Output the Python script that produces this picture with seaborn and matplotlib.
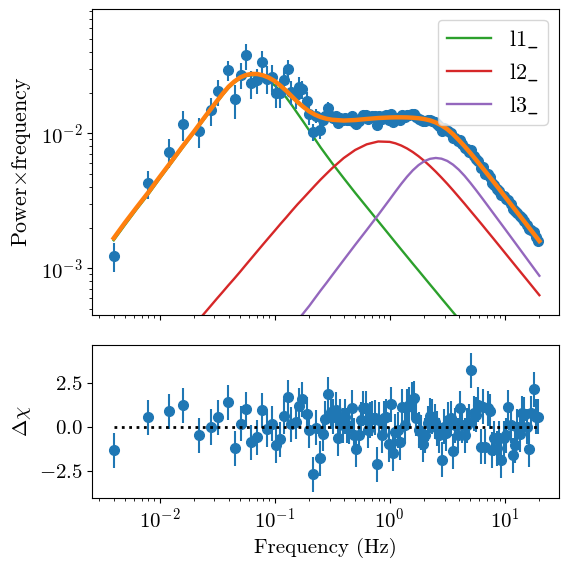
import matplotlib
matplotlib.use('Agg')
import matplotlib.pyplot as plt
import seaborn as sns

# ---------------------------------------------------------------
# Data: binned power spectrum (nu * P)
# ---------------------------------------------------------------
freq = [0.004, 0.008, 0.012, 0.016, 0.022, 0.028, 0.032, 0.039, 0.045, 0.051,
        0.056, 0.062, 0.070, 0.078, 0.086, 0.095, 0.103, 0.111, 0.121, 0.131,
        0.139, 0.153, 0.162, 0.173, 0.190, 0.200, 0.216, 0.231, 0.246, 0.261,
        0.276, 0.290,
        0.309, 0.324, 0.339, 0.355, 0.372, 0.389, 0.407, 0.427, 0.447, 0.468,
        0.490, 0.513, 0.537, 0.562, 0.589, 0.617, 0.646, 0.676, 0.708, 0.741,
        0.776, 0.813, 0.851, 0.891, 0.933, 0.977, 1.023, 1.072, 1.122, 1.175,
        1.230, 1.288, 1.349, 1.413, 1.479, 1.549, 1.622, 1.698, 1.778, 1.862,
        1.950, 2.042, 2.138, 2.239, 2.344, 2.455, 2.570, 2.692, 2.818, 2.951,
        3.090, 3.236, 3.388, 3.548, 3.715, 3.890, 4.074, 4.266, 4.467, 4.677,
        4.898, 5.129, 5.370, 5.623, 5.888, 6.166, 6.457, 6.761, 7.079, 7.413,
        7.762, 8.128, 8.511, 8.913, 9.333, 9.772, 10.23, 10.72, 11.22, 11.75,
        12.30, 12.88, 13.49, 14.13, 14.79, 15.49, 16.22, 16.98, 17.78, 18.62,
        19.50]

power = [0.00124, 0.00426, 0.00731, 0.0117, 0.0104, 0.0149, 0.0205, 0.0292, 0.0178, 0.0272,
         0.0377, 0.0234, 0.0247, 0.0340, 0.0254, 0.0262, 0.0198, 0.0200, 0.0248, 0.0297,
         0.0203, 0.0192, 0.0221, 0.0212, 0.0173, 0.0140, 0.0103, 0.0135, 0.0105, 0.0125,
         0.0135, 0.0155,
         0.01339, 0.01304, 0.01335, 0.01187, 0.01294, 0.01250, 0.01292, 0.01254, 0.01251, 0.01344,
         0.01220, 0.01162, 0.01233, 0.01306, 0.01364, 0.01369, 0.01280, 0.01326, 0.01336, 0.01341,
         0.01158, 0.01338, 0.01281, 0.01346, 0.01354, 0.01253, 0.01399, 0.01222, 0.01297, 0.01302,
         0.01258, 0.01375, 0.01312, 0.01370, 0.01374, 0.01385, 0.01385, 0.01318, 0.01276, 0.01264,
         0.01225, 0.01240, 0.01256, 0.01260, 0.01241, 0.01212, 0.01173, 0.01129, 0.01048, 0.01091,
         0.01051, 0.01044, 0.01010, 0.00919, 0.00930, 0.00883, 0.00889, 0.00827, 0.00779, 0.00759,
         0.00731, 0.00756, 0.00675, 0.00642, 0.00621, 0.00556, 0.00561, 0.00503, 0.00503, 0.00476,
         0.00427, 0.00412, 0.00389, 0.00376, 0.00348, 0.00343, 0.00328, 0.00322, 0.00301, 0.00275,
         0.00266, 0.00258, 0.00243, 0.00236, 0.00224, 0.00210, 0.00195, 0.00192, 0.00185, 0.00170,
         0.00160]

power_err = [0.00030, 0.0010, 0.00175, 0.0030, 0.0026, 0.0035, 0.0045, 0.0050, 0.0050, 0.0060,
             0.0085, 0.0055, 0.0050, 0.0070, 0.0060, 0.0060, 0.0045, 0.0045, 0.0045, 0.0052,
             0.0040, 0.0040, 0.0040, 0.0032, 0.0030, 0.0025, 0.0015, 0.0015, 0.0015, 0.0013,
             0.0013, 0.0015,
             0.00094, 0.00092, 0.00091, 0.00090, 0.00088, 0.00087, 0.00086, 0.00085, 0.00084, 0.00083,
             0.00080, 0.00080, 0.00079, 0.00078, 0.00077, 0.00076, 0.00075, 0.00074, 0.00073, 0.00072,
             0.00071, 0.00069, 0.00068, 0.00067, 0.00066, 0.00065, 0.00063, 0.00062, 0.00060, 0.00060,
             0.00059, 0.00058, 0.00057, 0.00056, 0.00056, 0.00055, 0.00053, 0.00053, 0.00051, 0.00050,
             0.00050, 0.00048, 0.00046, 0.00046, 0.00044, 0.00042, 0.00041, 0.00039, 0.00038, 0.00036,
             0.00034, 0.00033, 0.00031, 0.00030, 0.00029, 0.00027, 0.00026, 0.00024, 0.00023, 0.00022,
             0.00020, 0.00019, 0.00018, 0.00017, 0.00016, 0.00015, 0.00014, 0.00013, 0.00012, 0.00012,
             0.00011, 0.00010, 0.000092, 0.000088, 0.000084, 0.000077, 0.000073, 0.000066, 0.000063, 0.000060,
             0.000054, 0.000052, 0.000047, 0.000044, 0.000040, 0.000038, 0.000034, 0.000032, 0.000030, 0.000027,
             0.000025]

# residuals (data - model) / error, bottom panel
resid = [-1.33, 0.55, 0.90, 1.24, -0.47, 0.00, 0.55, 1.41, -1.22, 0.19,
         1.01, -0.87, -0.59, 0.95, -0.11, 0.19, -1.03, -0.70, 0.61, 1.70,
         0.15, 0.30, 1.22, 1.58, 0.73, -0.19, -2.70, -0.04, -1.79, -0.38,
         0.46, 1.87,
         0.88, 0.59, 0.97, -0.65, 0.59, 0.11, 0.59, 0.11, 0.02, 1.10,
         -0.46, -1.26, -0.46, 0.40, 1.07, 1.07, -0.17, 0.40, 0.50, 0.53,
         -2.11, 0.40, -0.46, 0.50, 0.59, -0.99, 1.30, -1.50, -0.27, -0.17,
         -0.88, 1.16, 0.11, 1.16, 1.26, 1.54, 1.64, 0.50, -0.17, -0.30,
         -0.99, -0.46, 0.21, 0.65, 0.59, 0.30, -0.08, -0.46, -1.85, 0.02,
         -0.36, 0.40, 0.50, -1.37, 0.11, -0.46, 1.07, 0.11, -0.46, 0.11,
         0.30, 3.24, 0.78, 0.69, 1.26, -1.12, 1.16, -1.12, 1.07, 0.91,
         -1.31, -0.65, -1.22, -0.65, -1.89, -0.65, -0.46, 1.12, 0.11, -1.60,
         -1.03, 0.02, -0.42, 0.78, 0.69, 0.02, -1.26, 0.78, 2.15, 0.59,
         0.59]

# ---------------------------------------------------------------
# Model curves (total + three Lorentzian components)
# ---------------------------------------------------------------
model_freq = [0.004, 0.005, 0.0063, 0.008, 0.01, 0.0126, 0.0158, 0.02, 0.0251, 0.0316,
              0.0355, 0.0398, 0.0447, 0.0501, 0.0562, 0.0631, 0.0708, 0.0794, 0.0891, 0.1,
              0.112, 0.126, 0.141, 0.158, 0.178, 0.2, 0.224, 0.251, 0.282, 0.316,
              0.398, 0.501, 0.631, 0.794, 1.0,
              1.122, 1.259, 1.413, 1.585, 1.778, 1.995, 2.239, 2.512, 2.818, 3.162,
              3.548, 3.981, 4.467, 5.012, 5.623, 6.310, 7.079, 7.943, 8.913, 10.0,
              12.59, 15.85, 19.95]

model_total = [0.00167, 0.00217, 0.00281, 0.00365, 0.00473, 0.00614, 0.00796, 0.01033, 0.01343, 0.01738,
               0.01973, 0.02213, 0.02420, 0.02588, 0.02700, 0.02754, 0.02747, 0.02685, 0.02581, 0.02438,
               0.02257, 0.02065, 0.01877, 0.01706, 0.01565, 0.01452, 0.01374, 0.01318, 0.01281, 0.01259,
               0.01242, 0.01253, 0.01276, 0.01297, 0.01309,
               0.01312, 0.01312, 0.01310, 0.01303, 0.01292, 0.01274, 0.01245, 0.01202, 0.01144, 0.01072,
               0.00984, 0.00891, 0.00801, 0.00715, 0.00635, 0.00562, 0.00497, 0.00439, 0.00387, 0.00340,
               0.00264, 0.00205, 0.00159]

l1 = [0.00161, 0.00209, 0.00272, 0.00353, 0.00459, 0.00597, 0.00776, 0.0101, 0.0131, 0.01698,
      0.01928, 0.02163, 0.02371, 0.02541, 0.02649, 0.02692, 0.02653, 0.02559, 0.02430, 0.02265,
      0.02061, 0.01841, 0.01615, 0.01403, 0.01213, 0.01047, 0.00906, 0.00785, 0.00685, 0.00600,
      0.00465, 0.00362, 0.00284, 0.00223, 0.00175,
      0.00155, 0.001374, 0.001219, 0.001081, 0.000961, 0.000853, 0.000757, 0.000673, 0.000597, 0.000531,
      0.000472, 0.000420, 0.000373, 0.000332, 0.000295, 0.000262, 0.000233, 0.000207, 0.000185, 0.000164,
      0.000130, 0.000103, 0.0000811]

l2 = [7.6e-5, 9.5e-5, 1.2e-4, 1.5e-4, 1.9e-4, 2.4e-4, 3.0e-4, 3.78e-4, 4.74e-4, 5.97e-4,
      6.69e-4, 7.5e-4, 8.39e-4, 9.4e-4, 1.058e-3, 1.19e-3, 1.338e-3, 1.503e-3, 1.687e-3, 1.892e-3,
      2.121e-3, 2.377e-3, 2.66e-3, 2.972e-3, 3.313e-3, 3.69e-3, 4.097e-3, 4.54e-3, 5.01e-3, 5.51e-3,
      6.55e-3, 7.52e-3, 8.28e-3, 8.69e-3, 8.63e-3,
      8.42e-3, 8.11e-3, 7.715e-3, 7.26e-3, 6.761e-3, 6.24e-3, 5.707e-3, 5.19e-3, 4.69e-3, 4.22e-3,
      3.777e-3, 3.37e-3, 3.005e-3, 2.67e-3, 2.375e-3, 2.11e-3, 1.871e-3, 1.66e-3, 1.471e-3, 1.303e-3,
      1.023e-3, 8.04e-4, 6.31e-4]

l3 = [6.6e-6, 8.5e-6, 1.1e-5, 1.43e-5, 1.85e-5, 2.4e-5, 3.1e-5, 4.0e-5, 5.2e-5, 6.7e-5,
      7.64e-5, 8.7e-5, 9.92e-5, 1.13e-4, 1.283e-4, 1.46e-4, 1.66e-4, 1.89e-4, 2.15e-4, 2.45e-4,
      2.786e-4, 3.17e-4, 3.606e-4, 4.1e-4, 4.645e-4, 5.26e-4, 5.998e-4, 6.84e-4, 7.78e-4, 8.86e-4,
      1.15e-3, 1.49e-3, 1.92e-3, 2.483e-3, 3.236e-3,
      3.701e-3, 4.217e-3, 4.764e-3, 5.309e-3, 5.804e-3, 6.209e-3, 6.465e-3, 6.561e-3, 6.48e-3, 6.237e-3,
      5.85e-3, 5.37e-3, 4.836e-3, 4.295e-3, 3.789e-3, 3.327e-3, 2.916e-3, 2.553e-3, 2.236e-3, 1.959e-3,
      1.5e-3, 1.148e-3, 8.79e-4]

component_labels = ['l1$\\_$', 'l2$\\_$', 'l3$\\_$']

# ---------------------------------------------------------------
# Style
# ---------------------------------------------------------------
sns.set_style('ticks', rc={'axes.edgecolor': 'black', 'axes.labelcolor': 'black',
                           'text.color': 'black', 'xtick.color': 'black',
                           'ytick.color': 'black', 'lines.solid_capstyle': 'projecting'})
plt.rcParams['font.family'] = 'cmr10'
plt.rcParams['mathtext.fontset'] = 'cm'
plt.rcParams['axes.formatter.use_mathtext'] = True
plt.rcParams['font.size'] = 15
plt.rcParams['axes.unicode_minus'] = True

fig, (ax, axr) = plt.subplots(2, 1, figsize=(5.69, 5.68), dpi=100, sharex=True,
                              gridspec_kw={'height_ratios': [2, 1]})
fig.subplots_adjust(left=0.162, right=0.982, top=0.985, bottom=0.123, hspace=0.13)

ax.set_xscale('log')
ax.set_yscale('log')

# components
for comp, col, lab in zip([l1, l2, l3], ['#2ca02c', '#d62728', '#9467bd'], component_labels):
    sns.lineplot(x=model_freq, y=comp, ax=ax, color=col, lw=1.7, label=lab, zorder=2)

# data
ax.errorbar(freq, power, yerr=power_err, fmt='o', color='#1f77b4', ms=7, zorder=3)

# total model on top
sns.lineplot(x=model_freq, y=model_total, ax=ax, color='#ff7f0e', lw=3.2, zorder=4)

ax.set_xlim(0.0026, 29.4)
ax.set_ylim(4.5e-4, 0.084)
ax.set_ylabel('Power$\\times$frequency', fontsize=15.8)
ax.legend(loc='upper right', fontsize=16)

# residuals
axr.errorbar(freq, resid, yerr=1, fmt='o', color='#1f77b4', ms=7, zorder=3)
sns.lineplot(x=[freq[0], freq[-1]], y=[0, 0], ax=axr, color='black', ls=':', lw=2, zorder=4)
axr.set_ylim(-4.05, 4.68)
axr.set_yticks([-2.5, 0.0, 2.5])
axr.set_ylabel('$\\Delta\\chi$')
axr.set_xlabel('Frequency (Hz)')

fig.align_ylabels([ax, axr])
fig.savefig('out.png', dpi=100)
